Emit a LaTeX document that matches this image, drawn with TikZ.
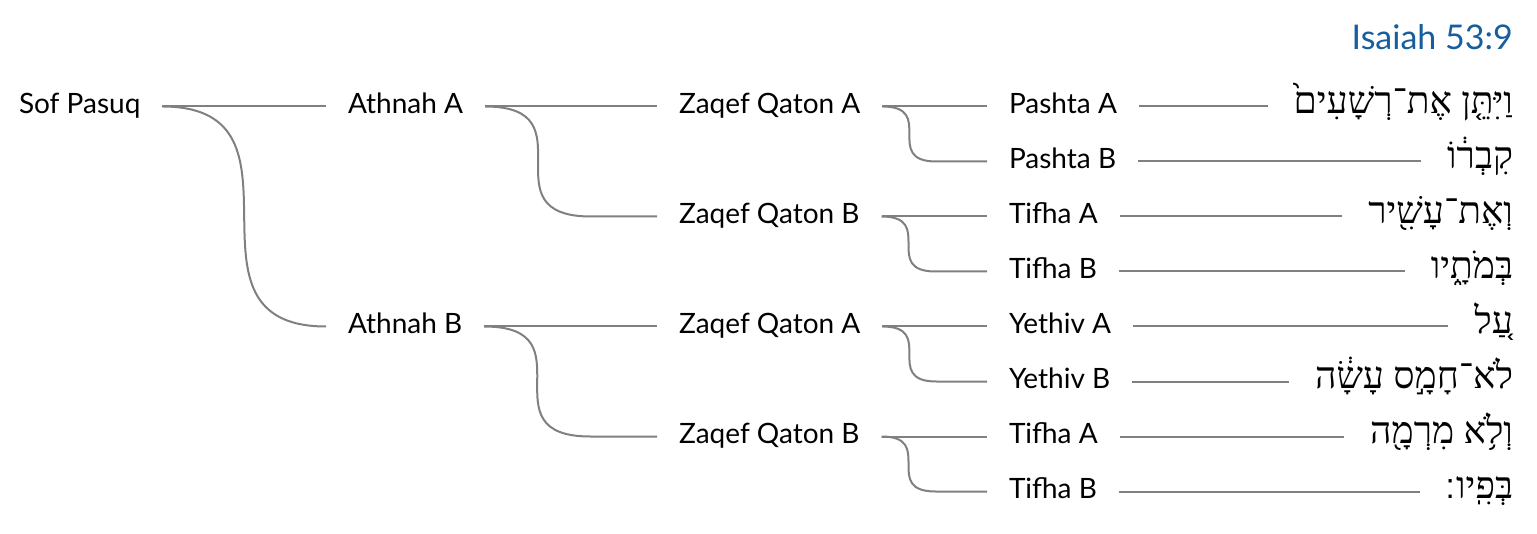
\documentclass[tikz,border=0pt]{standalone}
\usepackage{fontspec}
\setmainfont{Lato}
\newfontfamily\hebfont[Script=Hebrew]{Liberation Serif}
\newfontfamily\hebmark[Script=Hebrew]{DejaVu Sans}
\TeXXeTstate=1
\definecolor{VerseBlue}{RGB}{22,94,158}
\definecolor{TreeGray}{RGB}{128,128,128}
\usetikzlibrary{
    calc,
}

\begin{document}
\begin{tikzpicture}[x=0.75pt, y=-0.75pt,
    accent/.style={font=\fontsize{21}{25}\selectfont, inner sep=0pt, outer xsep=16.5pt, text height=14pt, text depth=3pt, anchor=west},
    word/.style={font=\hebfont\fontsize{28}{32}\selectfont, inner sep=0pt, outer xsep=19.5pt, text height=14pt, text depth=4pt, anchor=east},
    link/.style={draw=TreeGray, line width=1.5pt},
    swoop/.style={out=0, in=180, looseness=1.8}]
        \useasboundingbox (0,0) rectangle (1537,534);
        \node[font=\fontsize{25.5}{30}\selectfont, text=VerseBlue, inner sep=0pt, anchor=east] (verse) at (1513,37) {Isaiah 53:9};
        \node[accent] (sof) at (-3,106.5) {Sof Pasuq};
        \node[accent] (athA) at (326,106.5) {Athnah A};
        \node[accent] (athB) at (326,326.5) {Athnah B};
        \node[accent] (zqA1) at (657,106.5) {Zaqef Qaton A};
        \node[accent] (zqB1) at (657,216.5) {Zaqef Qaton B};
        \node[accent] (zqA2) at (657,326.5) {Zaqef Qaton A};
        \node[accent] (zqB2) at (657,436.5) {Zaqef Qaton B};
        \node[accent] (pashA) at (987,106.5) {Pashta A};
        \node[accent] (pashB) at (987,161.5) {Pashta B};
        \node[accent] (tifA1) at (987,216.5) {Tifha A};
        \node[accent] (tifB1) at (987,271.5) {Tifha B};
        \node[accent] (yetA) at (987,326.5) {Yethiv A};
        \node[accent] (yetB) at (987,381.5) {Yethiv B};
        \node[accent] (tifA2) at (987,436.5) {Tifha A};
        \node[accent] (tifB2) at (987,491.5) {Tifha B};
        \node[word] (w1) at (1539,106.5) {\beginR וַיִּתֵּ֤ן אֶת־רְשָׁעִים֙\endR};
        \node[word] (w2) at (1539,161.5) {\beginR קִבְר֔וֹ\endR};
        \node[word] (w3) at (1539,216.5) {\beginR וְאֶת־עָשִׁ֖יר\endR};
        \node[word] (w4) at (1539,271.5) {\beginR בְּמֹתָ֑יו\endR};
        \node[word] (w5) at (1539,326.5) {\beginR עַ֚ל\endR};
        \node[word] (w6) at (1539,381.5) {\beginR לֹא־חָמָ֣ס עָשָׂ֔ה\endR};
        \node[word] (w7) at (1539,436.5) {\beginR וְלֹ֥א מִרְמָ֖ה\endR};
        \node[word] (w8) at (1539,491.5) {\beginR בְּפִֽיו{\hebmark\fontsize{26}{30}\selectfont ׃}\endR};
        \draw[link] (sof.east) -- (athA.west);
        \draw[link] (sof.east) to[swoop, looseness=1.5] (athB.west);
        \draw[link] (athA.east) -- (zqA1.west);
        \draw[link] (athA.east) to[swoop] ($(athA.east)+(106,110)$) -- (zqB1.west);
        \draw[link] (athB.east) -- (zqA2.west);
        \draw[link] (athB.east) to[swoop] ($(athB.east)+(106,110)$) -- (zqB2.west);
        \draw[link] (zqA1.east) -- (pashA.west);
        \draw[link] (zqA1.east) to[swoop] ($(zqA1.east)+(54,55)$) -- (pashB.west);
        \draw[link] (zqB1.east) -- (tifA1.west);
        \draw[link] (zqB1.east) to[swoop] ($(zqB1.east)+(54,55)$) -- (tifB1.west);
        \draw[link] (zqA2.east) -- (yetA.west);
        \draw[link] (zqA2.east) to[swoop] ($(zqA2.east)+(54,55)$) -- (yetB.west);
        \draw[link] (zqB2.east) -- (tifA2.west);
        \draw[link] (zqB2.east) to[swoop] ($(zqB2.east)+(54,55)$) -- (tifB2.west);
        \draw[link] (pashA.east) -- (w1.west);
        \draw[link] (pashB.east) -- (w2.west);
        \draw[link] (tifA1.east) -- (w3.west);
        \draw[link] (tifB1.east) -- (w4.west);
        \draw[link] (yetA.east) -- (w5.west);
        \draw[link] (yetB.east) -- (w6.west);
        \draw[link] (tifA2.east) -- (w7.west);
        \draw[link] (tifB2.east) -- (w8.west);
    \end{tikzpicture}
\end{document}
